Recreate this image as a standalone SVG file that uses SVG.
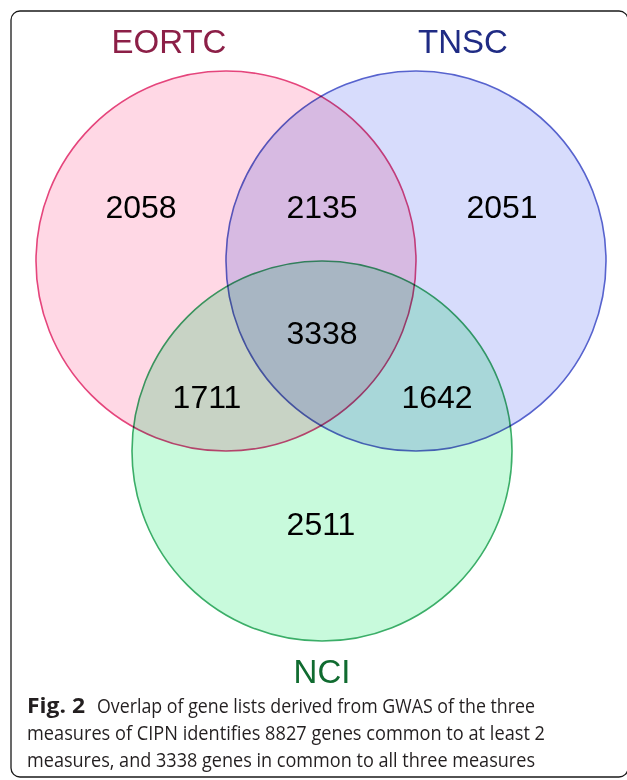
<svg xmlns="http://www.w3.org/2000/svg" width="627" height="780" viewBox="0 0 627 780">
<style>
.set{mix-blend-mode:multiply;stroke-width:1.6}
.num{font-family:"Liberation Sans",Arial,sans-serif;font-size:32px;fill:#000;text-anchor:middle}
.title{font-family:"Liberation Sans",Arial,sans-serif;font-size:33px;text-anchor:middle}
.cap{font-family:"Open Sans","Noto Sans","Liberation Sans",sans-serif;font-size:20.5px;fill:#231f20}
</style>
<rect x="0" y="0" width="627" height="780" fill="#fff"/>
<rect id="frame" x="11" y="11" width="617" height="766" rx="9" fill="none" stroke="#1a1a1a" stroke-width="1.3"/>
<g id="sets">
<g id="eortc"><circle class="set" cx="226" cy="261" r="190" fill="#FFD8E5" stroke="#E5457C"/></g>
<g id="tnsc"><circle class="set" cx="416" cy="261" r="190" fill="#D7DCFC" stroke="#5763CE"/></g>
<g id="nci"><circle class="set" cx="322" cy="451" r="190" fill="#C8FADC" stroke="#3BAE68"/></g>
</g>
<g id="connectors"/>
<g id="labels">
<text class="title" x="169" y="53" fill="#8C1F47">EORTC</text>
<text class="title" x="463" y="53" fill="#1F2B84">TNSC</text>
<text class="title" x="322" y="683" fill="#106B30">NCI</text>
</g>
<g id="counts">
<text class="num" x="141" y="218">2058</text>
<text class="num" x="322" y="218">2135</text>
<text class="num" x="502" y="218">2051</text>
<text class="num" x="322" y="344">3338</text>
<text class="num" x="207" y="408">1711</text>
<text class="num" x="437" y="408">1642</text>
<text class="num" x="321" y="535">2511</text>
</g>
<g id="caption">
<text class="cap" x="27" y="713" font-weight="bold" textLength="58" lengthAdjust="spacingAndGlyphs">Fig. 2</text>
<text class="cap" x="97" y="713" textLength="438" lengthAdjust="spacingAndGlyphs">Overlap of gene lists derived from GWAS of the three</text>
<text class="cap" x="27" y="740" textLength="518" lengthAdjust="spacingAndGlyphs">measures of CIPN identifies 8827 genes common to at least 2</text>
<text class="cap" x="27" y="767" textLength="508" lengthAdjust="spacingAndGlyphs">measures, and 3338 genes in common to all three measures</text>
</g>
</svg>
